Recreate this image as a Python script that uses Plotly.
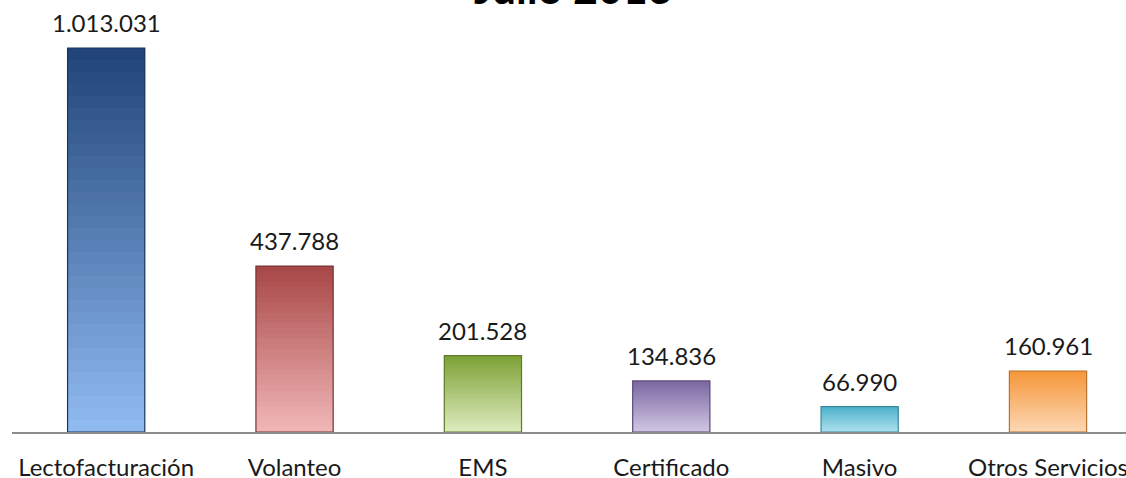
import plotly.graph_objects as go

categories = ["Lectofacturación", "Volanteo", "EMS", "Certificado", "Masivo", "Otros Servicios"]
values = [1013031, 437788, 201528, 134836, 66990, 160961]
labels = ["1.013.031", "437.788", "201.528", "134.836", "66.990", "160.961"]
title_text = "Julio 2013"

# gradient colours: (top, bottom)
top_colors = ["#21457a", "#a94848", "#7ea236", "#7c68a2", "#4fb2cb", "#f5973a"]
bottom_colors = ["#8fbaf0", "#f0b6b6", "#dcebbd", "#cfc5e2", "#aee1ee", "#fcd6b2"]
edge_colors = ["#1a355c", "#7a3434", "#5f7a2a", "#5c4d7a", "#3a8a9e", "#b8722e"]


def hex2rgb(h):
    h = h.lstrip("#")
    return tuple(int(h[i:i + 2], 16) for i in (0, 2, 4))


def mix(c1, c2, t):
    a, b = hex2rgb(c1), hex2rgb(c2)
    return "rgb(%d,%d,%d)" % tuple(round(a[i] + (b[i] - a[i]) * t) for i in range(3))


N = 32
fig = go.Figure()
for k in range(N):
    t = k / (N - 1)  # 0 bottom -> 1 top
    bases = [v * k / N for v in values]
    fig.add_trace(go.Bar(
        x=categories,
        y=[min(v / N * 2.0, v - b) for v, b in zip(values, bases)],
        base=bases,
        marker=dict(color=[mix(bottom_colors[i], top_colors[i], t) for i in range(len(values))],
                    line=dict(width=0)),
        hoverinfo="skip",
        showlegend=False,
    ))

# outline of each bar
fig.add_trace(go.Bar(
    x=categories, y=values, base=0,
    marker=dict(color="rgba(0,0,0,0)", line=dict(color=edge_colors, width=1.2)),
    showlegend=False, hoverinfo="skip",
))

annotations = [dict(
    x=c, y=v, text=lab, xref="x", yref="y", yanchor="bottom", xanchor="center",
    yshift=9, showarrow=False, font=dict(family="Lato", size=24, color="#1a1a1a"),
) for c, v, lab in zip(categories, values, labels)]

annotations.append(dict(
    text="<b>" + title_text + "</b>", xref="paper", yref="paper",
    x=0.504, y=1, yanchor="bottom", xanchor="center", yshift=5, showarrow=False,
    font=dict(family="Lato", size=43, color="#000000"),
))

fig.update_layout(
    width=1126, height=478,
    margin=dict(l=12, r=0, t=20, b=46, autoexpand=False),
    barmode="overlay", bargap=0.59,
    paper_bgcolor="white", plot_bgcolor="white",
    font=dict(family="Lato", size=24, color="#1a1a1a"),
    xaxis=dict(
        type="category", range=[-0.5, 5.414], automargin=False,
        showline=True, linecolor="#8c8c8c", linewidth=2,
        ticks="outside", ticklen=13, tickcolor="rgba(0,0,0,0)",
        showgrid=False, zeroline=False,
        tickfont=dict(family="Lato", size=24, color="#1a1a1a"),
    ),
    yaxis=dict(range=[0, 1086900], visible=False, showgrid=False, zeroline=False,
               automargin=False),
    annotations=annotations,
)

fig.write_html("out.html", config={"displayModeBar": False},
               post_script="document.body.style.margin='0px';document.body.style.overflow='hidden';")
